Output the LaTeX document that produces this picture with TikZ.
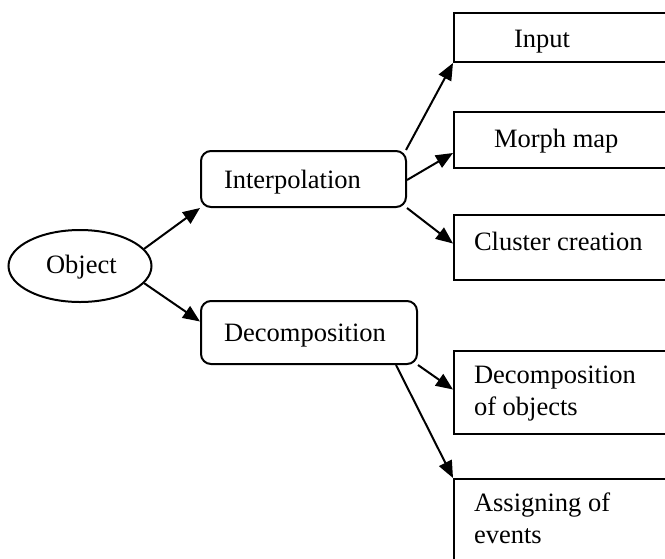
\documentclass[tikz,border=0pt]{standalone}
\usepackage{fontspec}
\setmainfont{Liberation Serif}
\usetikzlibrary{shapes.geometric,arrows.meta}
\begin{document}
\begin{tikzpicture}[x=1pt,y=-1pt,
  line width=2pt,
  txt/.style={anchor=base west,inner sep=0pt,font=\fontsize{26.5}{32}\selectfont,align=left},
  rbox/.style={draw,rounded corners=10pt,anchor=north west,inner sep=0pt},
  sbox/.style={draw,anchor=north west,inner sep=0pt},
  arr/.style={-{Triangle[length=17pt,width=14pt]},line width=2pt}]
\useasboundingbox (0,0) rectangle (665,558);
\clip (0,0) rectangle (665,558);
\fill[white] (0,0) rectangle (665,558);
% shapes
\node[draw,ellipse,minimum width=143pt,minimum height=72pt,inner sep=0pt] (obj) at (80,266) {};
\node[rbox,minimum width=205pt,minimum height=56pt] (interp) at (200,150) {};
\node[rbox,minimum width=216pt,minimum height=63pt] (decomp) at (200,300) {};
\node[sbox,minimum width=260pt,minimum height=49pt] (input) at (453,12) {};
\node[sbox,minimum width=260pt,minimum height=56pt] (morph) at (453,111) {};
\node[sbox,minimum width=260pt,minimum height=65pt] (cluster) at (453,214) {};
\node[sbox,minimum width=260pt,minimum height=83pt] (dobj) at (453,350) {};
\node[sbox,minimum width=260pt,minimum height=120pt] (assign) at (453,478) {};
% texts
\node[txt] (tobj) at (45,273) {Object};
\node[txt] (tinterp) at (223,188) {Interpolation};
\node[txt] (tdecomp) at (223,341) {Decomposition};
\node[txt] (tinput) at (513,47) {Input};
\node[txt] (tmorph) at (493,147) {Morph map};
\node[txt] (tcluster) at (473,250) {Cluster creation};
\node[txt] (tdobj) at (473,415) {Decomposition\\of objects};
\node[txt] (tassign) at (473,543) {Assigning of\\events};
% connectors
\draw[arr] (obj.15) -- (interp.south west);
\draw[arr] (obj.-15) -- ([yshift=11pt]decomp.west);
\draw[arr] ([xshift=-1pt]interp.north east) -- (input.south west);
\draw[arr] ([yshift=-1pt]interp.east) -- ([yshift=-13pt]morph.west);
\draw[arr] (interp.south east) -- ([yshift=4pt]cluster.west);
\draw[arr] (decomp.south east) -- ([yshift=3pt]dobj.west);
\draw[arr] ([xshift=-22pt]decomp.south east) -- (assign.north west);
\end{tikzpicture}
\end{document}
